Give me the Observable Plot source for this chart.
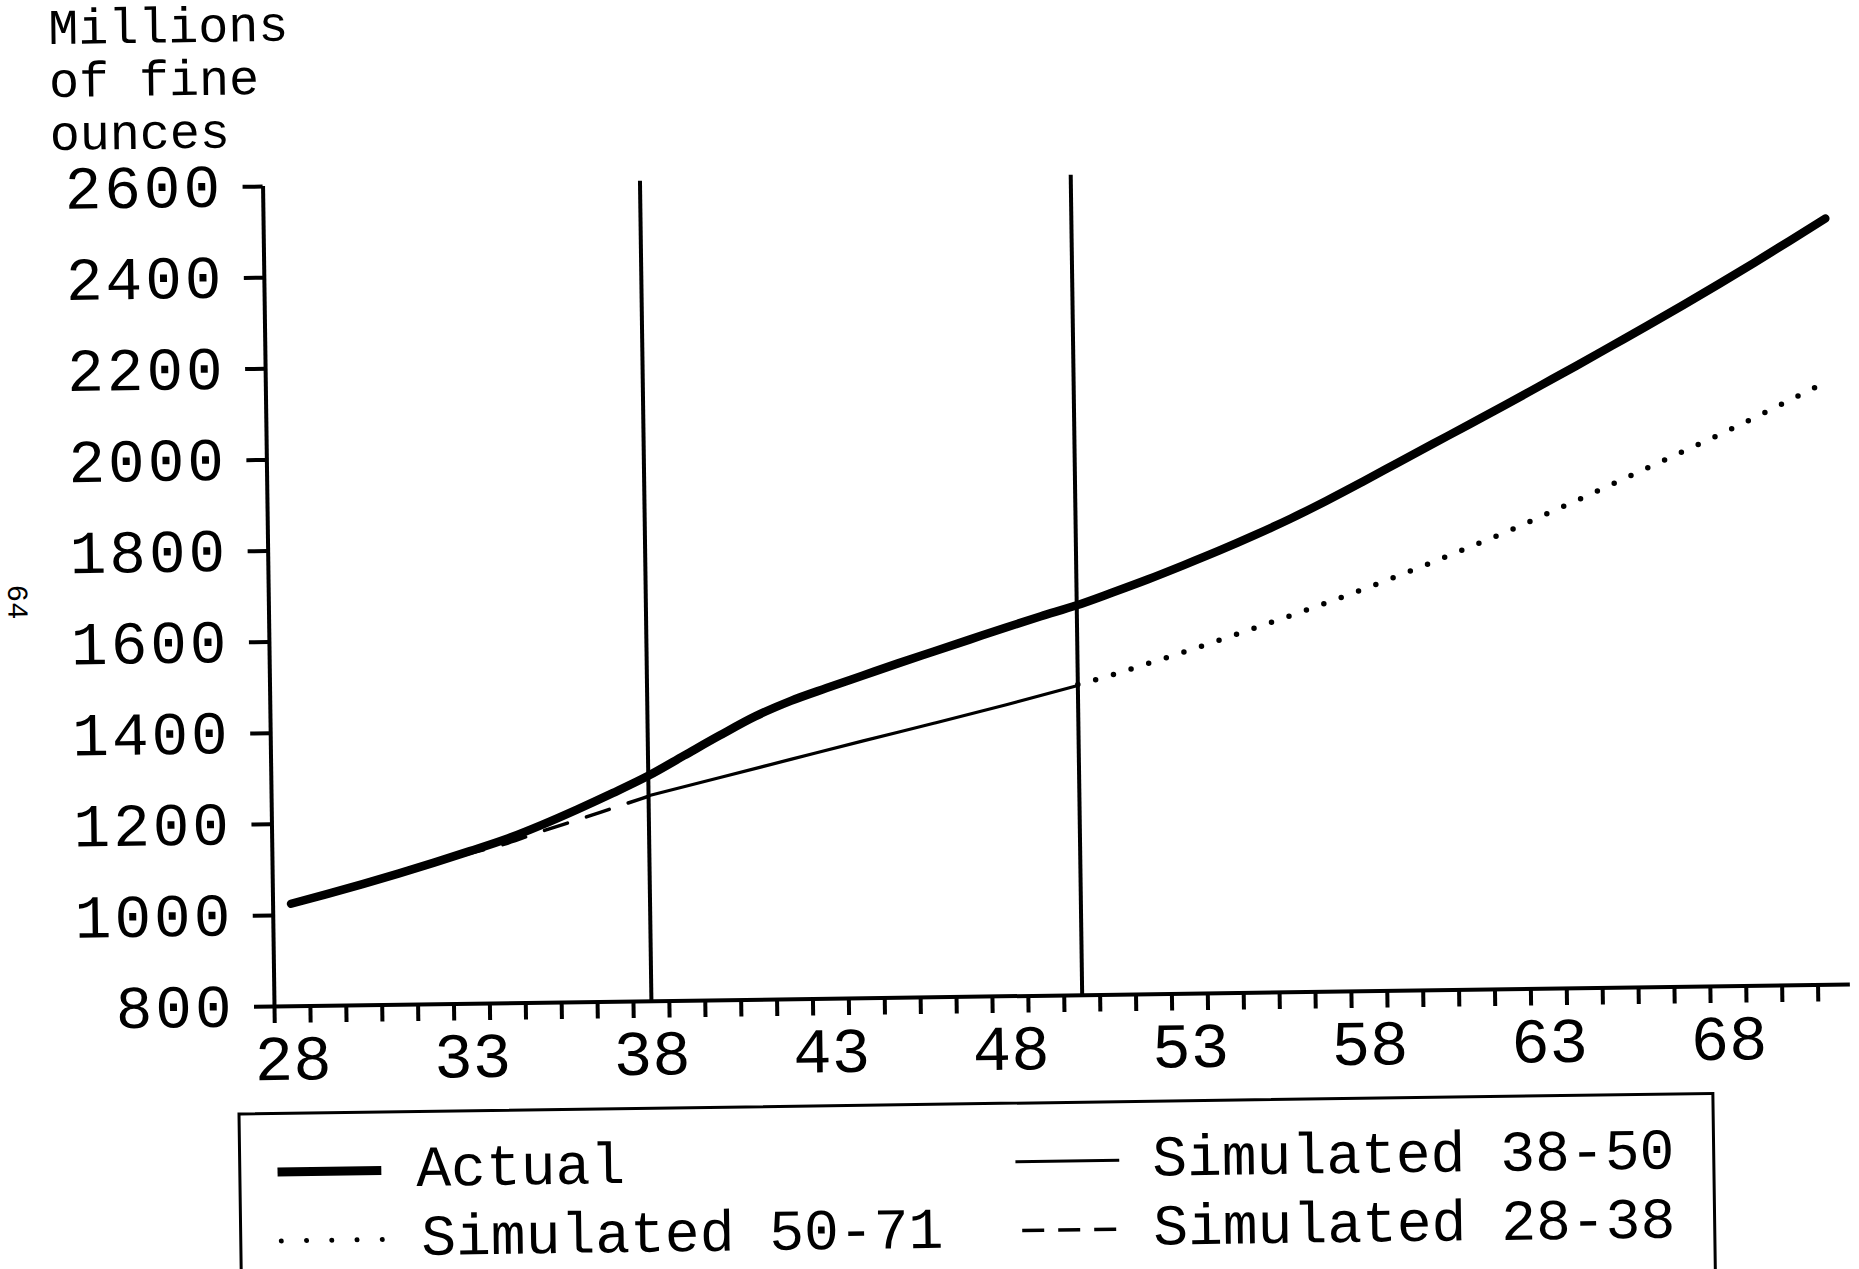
<!DOCTYPE html>
<html>
<head>
<meta charset="utf-8">
<script src="https://cdn.jsdelivr.net/npm/d3@7"></script>
<script src="https://cdn.jsdelivr.net/npm/@observablehq/plot@0.6"></script>
<style>
  html, body { margin: 0; padding: 0; background: #fff; }
  body { width: 1859px; height: 1269px; position: relative; overflow: hidden;
         font-family: "Liberation Mono", "DejaVu Sans Mono", monospace; color: #000; }
  #page { position: absolute; left: 0; top: 0; width: 1859px; height: 1269px;
          transform-origin: 274px 1006px; transform: rotate(-0.8deg); }
  #title { position: absolute; left: 62px; top: 1px; font-size: 50px; line-height: 53px; white-space: pre; z-index: 2; }
  #pagenum { position: absolute; left: 4px; top: 582px; font-size: 29px; transform: rotate(90deg); z-index: 3; }
  #chart { position: absolute; left: 0; top: 150px; z-index: 1; }
  #legend { position: absolute; left: 236px; top: 1112px; width: 1477px; height: 200px;
            border: 3px solid #000; box-sizing: border-box; z-index: 2; background: #fff; }
  .item { position: absolute; height: 64px; display: flex; align-items: center; font-size: 58px; white-space: pre; }
  .item svg { flex: none; }
</style>
</head>
<body>
<div id="page">
  <div id="chart"></div>
  <div id="title"></div>
  <div id="pagenum">64</div>
  <div id="legend"></div>
</div>
<script>
// ---- text ----
const titleLines = ["Millions", "of fine", "ounces"];

// ---- axes ----
const xDomain = [27.5, 71.4];
const yDomain = [800, 2600];
const yTicks = [800, 1000, 1200, 1400, 1600, 1800, 2000, 2200, 2400, 2600];
const xLabelYears = [28, 33, 38, 43, 48, 53, 58, 63, 68];
const xMinorTicks = [27.5, 28.5, 29.5, 30.5, 31.5, 32.5, 33.5, 34.5, 35.5, 36.5, 37.5, 38.5, 39.5,
  40.5, 41.5, 42.5, 43.5, 44.5, 45.5, 46.5, 47.5, 48.5, 49.5, 50.5, 51.5, 52.5, 53.5, 54.5, 55.5,
  56.5, 57.5, 58.5, 59.5, 60.5, 61.5, 62.5, 63.5, 64.5, 65.5, 66.5, 67.5, 68.5, 69.5, 70.5];
const breakYears = [38, 50];

// ---- series ----
const actualYears = [28, 29, 30, 31, 32, 33, 34, 35, 36, 37, 38, 39, 40, 41, 42, 43, 44, 45, 46, 47, 48, 49,
  50, 51, 52, 53, 54, 55, 56, 57, 58, 59, 60, 61, 62, 63, 64, 65, 66, 67, 68, 69, 70, 71];
const actualValues = [1025, 1045, 1066, 1088, 1111, 1135, 1160, 1190, 1223, 1258, 1295, 1338, 1381, 1422, 1455,
  1482, 1508, 1534, 1559, 1584, 1609, 1633, 1656, 1683, 1711, 1741, 1772, 1805, 1840, 1878, 1918, 1959,
  2000, 2041, 2082, 2124, 2166, 2209, 2252, 2296, 2341, 2387, 2434, 2482];

const sim2838Years = [28, 30, 32, 33, 34, 35, 36, 37, 38];
const sim2838Values = [1025, 1066, 1110, 1130, 1150, 1176, 1200, 1225, 1250];

const sim3850Years = [38, 40, 42, 44, 46, 48, 50];
const sim3850Values = [1251, 1289, 1327, 1365, 1402, 1440, 1480];

const sim5071Years = [50, 51, 52, 53, 54, 55, 56, 57, 58, 59, 60, 61, 62, 63, 64, 65, 66, 67, 68, 69, 70, 71];
const sim5071Values = [1482, 1503, 1527, 1551, 1576, 1602, 1628, 1655, 1683, 1712, 1742, 1773, 1804, 1838,
  1872, 1907, 1942, 1977, 2012, 2049, 2087, 2125];

const legendLabels = ["Actual", "Simulated 50-71", "Simulated 38-50", "Simulated 28-38"];

// ---- build ----
const rows = (ys, vs) => ys.map((y, i) => ({year: y, value: vs[i]}));
const actual = rows(actualYears, actualValues);
const sim2838 = rows(sim2838Years, sim2838Values);
const sim3850 = rows(sim3850Years, sim3850Values);
const sim5071 = rows(sim5071Years, sim5071Values);

document.getElementById("title").textContent = titleLines.join("\n");

const font = "Liberation Mono, DejaVu Sans Mono, monospace";
const chart = Plot.plot({
  width: 1859,
  height: 954,
  marginLeft: 274,
  marginRight: 9,
  marginTop: 36,
  marginBottom: 98,
  style: {fontFamily: font, background: "transparent", color: "black", overflow: "visible"},
  x: {domain: xDomain},
  y: {domain: yDomain},
  marks: [
    Plot.axisY({ticks: yTicks, tickSize: 20, strokeWidth: 4, tickFormat: () => "", label: null}),
    Plot.axisY({ticks: yTicks, tickSize: 0, tickPadding: 40, fontSize: 61, tickFormat: d => String(d), label: null}),
    Plot.axisX({ticks: xMinorTicks, tickSize: 17, strokeWidth: 4, tickFormat: () => "", label: null}),
    Plot.axisX({ticks: xLabelYears, tickSize: 0, tickPadding: 28, fontSize: 64, tickFormat: d => String(d), label: null}),
    Plot.ruleX([xDomain[0]], {y1: yDomain[0], y2: yDomain[1], strokeWidth: 4}),
    Plot.ruleY([yDomain[0]], {strokeWidth: 4}),
    Plot.ruleX(breakYears, {y1: yDomain[0], y2: yDomain[1], strokeWidth: 4}),
    Plot.line(sim2838, {x: "year", y: "value", strokeWidth: 3.5, strokeDasharray: "24 20", curve: "monotone-x"}),
    Plot.line(sim3850, {x: "year", y: "value", strokeWidth: 3.2, curve: "monotone-x"}),
    Plot.line(sim5071, {x: "year", y: "value", strokeWidth: 5.5, strokeDasharray: "0 18.5", strokeLinecap: "round", curve: "monotone-x"}),
    Plot.line(actual, {x: "year", y: "value", strokeWidth: 8.5, curve: "monotone-x"})
  ]
});
document.getElementById("chart").appendChild(chart);
// drop the empty label texts of the tick-only axes
d3.select(chart).selectAll("text").filter(function () { return this.textContent.trim() === ""; }).remove();
d3.select(chart).selectAll('g[aria-label="y-axis tick label"] text').attr("letter-spacing", "3px");

// ---- legend ----
const samples = [
  {w: 9, dash: null, cap: "butt", x1: 0},
  {w: 5, dash: "0 25.25", cap: "round", x1: 3},
  {w: 3, dash: null, cap: "butt", x1: 0},
  {w: 3.5, dash: "22 14", cap: "butt", x1: 6}
];
const pos = [
  {left: 36, top: 25, gap: 33},
  {left: 36, top: 94, gap: 37},
  {left: 774, top: 25, gap: 31},
  {left: 774, top: 94, gap: 31}
];
const legend = document.getElementById("legend");
legendLabels.forEach((lab, i) => {
  const s = samples[i], p = pos[i];
  const div = document.createElement("div");
  div.className = "item";
  div.style.left = p.left + "px";
  div.style.top = p.top + "px";
  const ns = "http://www.w3.org/2000/svg";
  const svg = document.createElementNS(ns, "svg");
  svg.setAttribute("width", 107);
  svg.setAttribute("height", 20);
  const ln = document.createElementNS(ns, "line");
  ln.setAttribute("x1", s.x1);
  ln.setAttribute("x2", s.dash === "0 25.25" ? 106 : 104);
  ln.setAttribute("y1", 10);
  ln.setAttribute("y2", 10);
  ln.setAttribute("stroke", "black");
  ln.setAttribute("stroke-width", s.w);
  ln.setAttribute("stroke-linecap", s.cap);
  if (s.dash) ln.setAttribute("stroke-dasharray", s.dash);
  svg.appendChild(ln);
  const span = document.createElement("span");
  span.textContent = lab;
  span.style.marginLeft = (p.gap - 1) + "px";
  div.appendChild(svg);
  div.appendChild(span);
  legend.appendChild(div);
});
</script>
</body>
</html>
